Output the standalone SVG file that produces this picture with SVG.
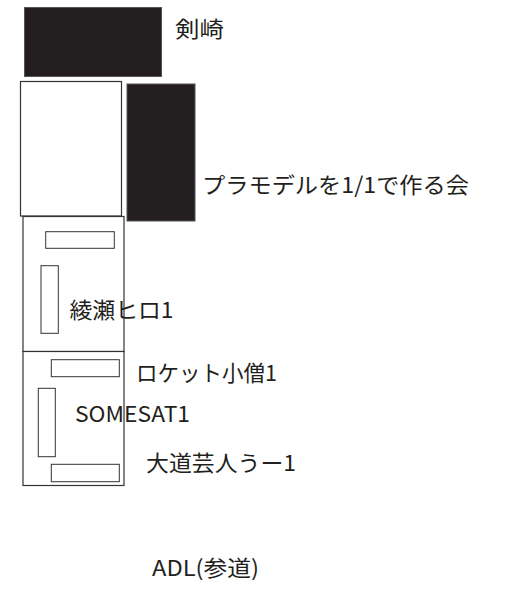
<svg xmlns="http://www.w3.org/2000/svg" width="505" height="590" viewBox="0 0 505 590">
<style>
.blk{fill:#231f20;stroke:#555;stroke-width:1}
.box{fill:#fff;stroke:#333;stroke-width:1.2}
.sm{fill:#fff;stroke:#333;stroke-width:1}
.t{font-family:"Noto Sans CJK JP","Noto Sans",sans-serif;font-size:22px;fill:#231f20}
</style>
<rect width="505" height="590" fill="#fff"/>
<g id="kenzaki">
<rect class="blk" x="24.5" y="7.5" width="137" height="69"/>
<text class="t" x="175" y="37" textLength="49" lengthAdjust="spacingAndGlyphs">剣崎</text>
</g>
<g id="plamodel-box">
<rect class="box" x="20.5" y="81.5" width="101" height="134.5"/>
</g>
<g id="plamodel">
<rect class="blk" x="127" y="84" width="68" height="137"/>
<text class="t" x="202" y="193" textLength="267" lengthAdjust="spacingAndGlyphs">プラモデルを1/1で作る会</text>
</g>
<g id="ayase">
<rect class="box" x="23" y="216.5" width="101" height="135"/>
<rect class="sm" x="45.7" y="231.7" width="68.6" height="16.6"/>
<rect class="sm" x="41" y="265.7" width="17.3" height="67.6"/>
<text class="t" x="69.5" y="318" textLength="104" lengthAdjust="spacingAndGlyphs">綾瀬ヒロ1</text>
</g>
<g id="somesat">
<rect class="box" x="23" y="351.5" width="101" height="134"/>
<rect class="sm" x="51.3" y="359.7" width="68" height="17"/>
<rect class="sm" x="38.3" y="388.3" width="17" height="68.4"/>
<rect class="sm" x="51.3" y="464.3" width="68" height="17.4"/>
<text class="t" x="136" y="381" textLength="141" lengthAdjust="spacingAndGlyphs">ロケット小僧1</text>
<text class="t" x="75" y="421.5" textLength="115" lengthAdjust="spacingAndGlyphs">SOMESAT1</text>
<text class="t" x="146" y="471" textLength="150" lengthAdjust="spacingAndGlyphs">大道芸人うー1</text>
</g>
<g id="adl">
<text class="t" x="152" y="576" textLength="107" lengthAdjust="spacingAndGlyphs">ADL(参道)</text>
</g>
<g id="connectors"></g>
</svg>
